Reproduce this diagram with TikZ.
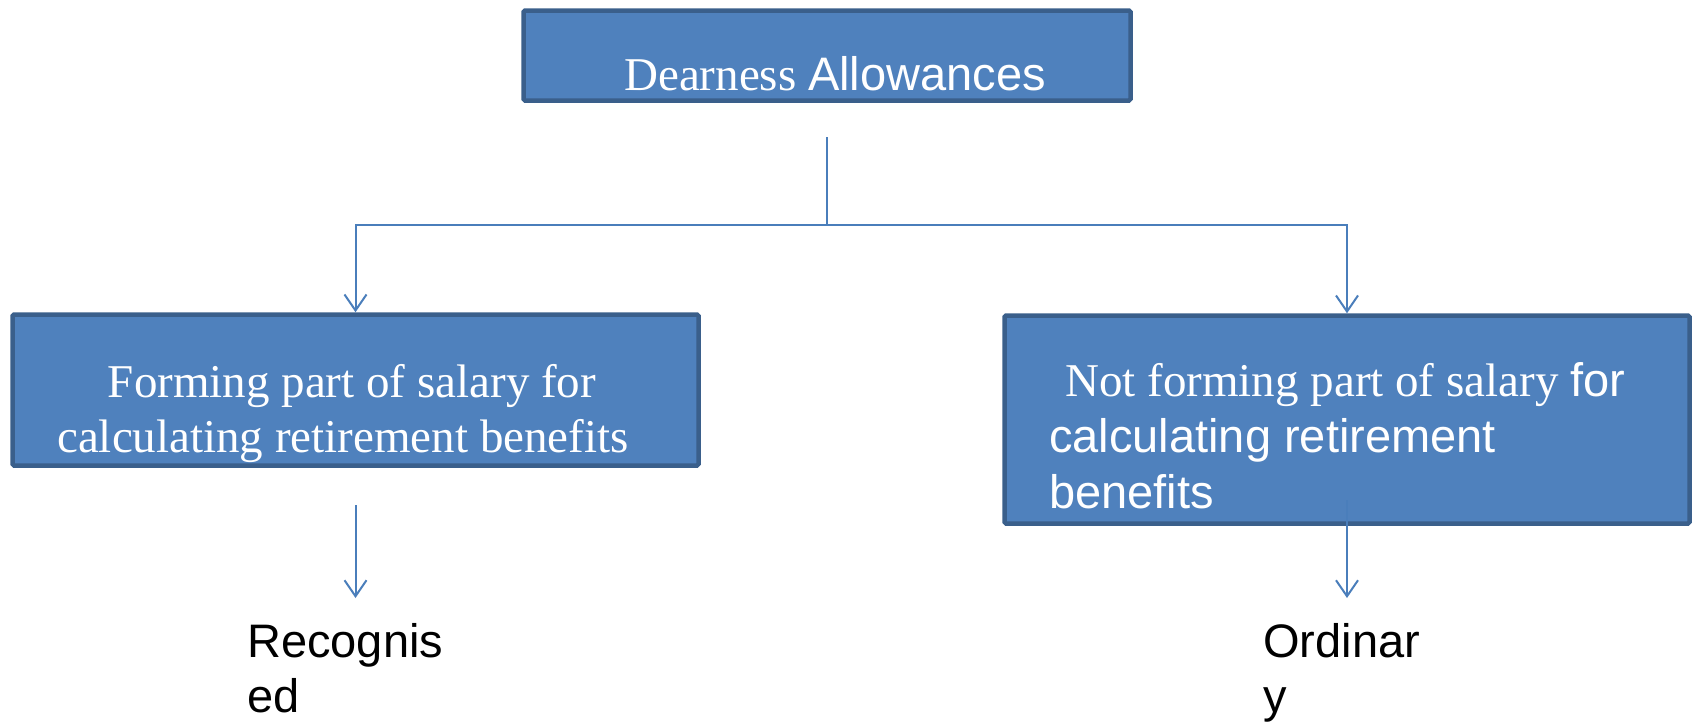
\documentclass[tikz,border=0pt]{standalone}
\usepackage{fontspec}
\setmainfont{Liberation Serif}
\newfontfamily\sansf{Liberation Sans}
\usetikzlibrary{arrows.meta}
\definecolor{boxfill}{HTML}{4F81BD}
\definecolor{boxedge}{HTML}{3A5F8B}
\definecolor{linec}{HTML}{4A7EBB}
\begin{document}
\begin{tikzpicture}[x=1pt,y=-1pt,
  box/.style={rectangle, draw=boxedge, fill=boxfill, line width=4.5pt, rounded corners=1.5pt, inner sep=0pt},
  wtxt/.style={text=white, inner sep=0pt, font=\fontsize{47}{56}\selectfont},
  btxt/.style={text=black, inner sep=0pt, font=\sansf\fontsize{47}{56}\selectfont},
  conn/.style={draw=linec, line width=2pt},
  arr/.style={conn, -{Straight Barb[length=16pt,width=22pt,line width=2pt]}}]
\useasboundingbox (0,0) rectangle (1696,724);
% boxes
\node[box, minimum width=607pt, minimum height=90pt] (top) at (827,55.5) {};
\node[box, minimum width=686pt, minimum height=151pt] (left) at (355.5,390) {};
\node[box, minimum width=685pt, minimum height=208pt] (right) at (1347,419.5) {};
% texts
\node[wtxt, anchor=base west] (toptext) at (624,90) {Dearness {\sansf Allowances}};
\node[wtxt, anchor=base] (lt1) at (352,397) {Forming part of salary for};
\node[wtxt, anchor=base] (lt2) at (343,452) {calculating retirement benefits};
\node[wtxt, anchor=base west] (rt1) at (1065,396) {Not forming part of salary {\sansf for}};
\node[wtxt, anchor=base west, font=\sansf\fontsize{47}{56}\selectfont] (rt2) at (1049,452) {calculating retirement};
\node[wtxt, anchor=base west, font=\sansf\fontsize{47}{56}\selectfont] (rt3) at (1049,508) {benefits};
\node[btxt, anchor=base west] (rec1) at (247,657) {Recognis};
\node[btxt, anchor=base west] (rec2) at (247,712) {ed};
\node[btxt, anchor=base west] (ord1) at (1263,657) {Ordinar};
\node[btxt, anchor=base west] (ord2) at (1263,712) {y};
% connectors
\coordinate (s) at (827,137);
\coordinate (j) at (827,225);
\draw[conn] (s) -- (j);
\draw[arr] (j) -| (left.north);
\draw[arr] (j) -| (right.north);
\coordinate (la) at (355.5,505);
\coordinate (lb) at (355.5,598);
\draw[arr] (la) -- (lb);
\coordinate (ra) at (1347,500);
\coordinate (rb) at (1347,598);
\draw[arr] (ra) -- (rb);
\end{tikzpicture}
\end{document}
